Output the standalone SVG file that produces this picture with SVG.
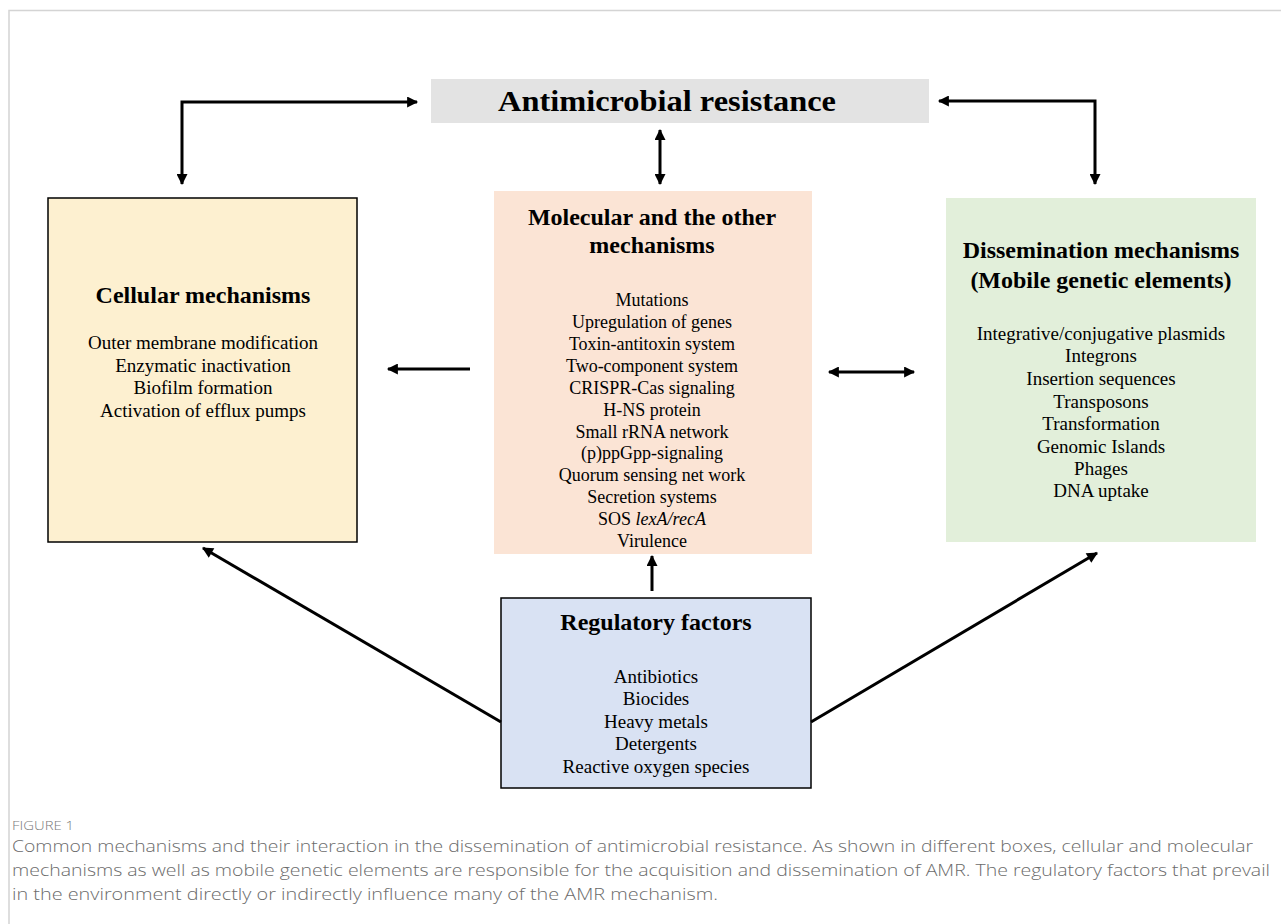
<svg xmlns="http://www.w3.org/2000/svg" width="1281" height="924" viewBox="0 0 1281 924">
<defs>
<marker id="ah" viewBox="0 0 10 10" refX="9" refY="5" markerWidth="12" markerHeight="11" markerUnits="userSpaceOnUse" orient="auto-start-reverse">
<path d="M0,0 L10,5 L0,10 z" fill="#000"/>
</marker>
<style>
.t{font-family:"Liberation Serif","Times New Roman",serif;fill:#000;text-anchor:middle}
.h{font-weight:bold;font-size:24px}
.i{font-size:19px}
.m{font-size:18px}
.c{stroke:#000;stroke-width:3;fill:none}
.cap{font-family:"Open Sans","Liberation Sans",sans-serif;fill:#6b6b6b;font-size:17px;font-weight:300}
</style>
</defs>
<rect width="1281" height="924" fill="#fff"/>
<path d="M9,924 L9,10.5 L1281,10.5" stroke="#d4d4d4" stroke-width="1.5" fill="none"/>

<g id="amr">
<rect x="431" y="79" width="498" height="44" fill="#e3e3e3"/>
<text class="t" x="667" y="111" font-weight="bold" font-size="29" textLength="338" lengthAdjust="spacingAndGlyphs">Antimicrobial resistance</text>
</g>

<g id="cellular">
<rect x="48" y="198" width="309" height="344" fill="#fdf0d0" stroke="#000" stroke-width="1.5"/>
<text class="t h" x="203" y="303">Cellular mechanisms</text>
<text class="t i" x="203" y="349">Outer membrane modification</text>
<text class="t i" x="203" y="372">Enzymatic inactivation</text>
<text class="t i" x="203" y="394">Biofilm formation</text>
<text class="t i" x="203" y="417">Activation of efflux pumps</text>
</g>

<g id="molecular">
<rect x="494" y="191" width="318" height="363" fill="#fbe4d5"/>
<text class="t h" x="652" y="225">Molecular and the other</text>
<text class="t h" x="652" y="253">mechanisms</text>
<text class="t m" x="652" y="306">Mutations</text>
<text class="t m" x="652" y="328">Upregulation of genes</text>
<text class="t m" x="652" y="350">Toxin-antitoxin system</text>
<text class="t m" x="652" y="372">Two-component system</text>
<text class="t m" x="652" y="394">CRISPR-Cas signaling</text>
<text class="t m" x="652" y="416">H-NS protein</text>
<text class="t m" x="652" y="438">Small rRNA network</text>
<text class="t m" x="652" y="459">(p)ppGpp-signaling</text>
<text class="t m" x="652" y="481">Quorum sensing net work</text>
<text class="t m" x="652" y="503">Secretion systems</text>
<text class="t m" x="652" y="525">SOS <tspan font-style="italic">lexA/recA</tspan></text>
<text class="t m" x="652" y="547">Virulence</text>
</g>

<g id="dissemination">
<rect x="946" y="198" width="310" height="344" fill="#e2efda"/>
<text class="t h" x="1101" y="258">Dissemination mechanisms</text>
<text class="t h" x="1101" y="288">(Mobile genetic elements)</text>
<text class="t i" x="1101" y="340">Integrative/conjugative plasmids</text>
<text class="t i" x="1101" y="362">Integrons</text>
<text class="t i" x="1101" y="385">Insertion sequences</text>
<text class="t i" x="1101" y="408">Transposons</text>
<text class="t i" x="1101" y="430">Transformation</text>
<text class="t i" x="1101" y="453">Genomic Islands</text>
<text class="t i" x="1101" y="475">Phages</text>
<text class="t i" x="1101" y="497">DNA uptake</text>
</g>

<g id="regulatory">
<rect x="501" y="598" width="310" height="190" fill="#d9e2f3" stroke="#000" stroke-width="1.5"/>
<text class="t h" x="656" y="630">Regulatory factors</text>
<text class="t i" x="656" y="683">Antibiotics</text>
<text class="t i" x="656" y="705">Biocides</text>
<text class="t i" x="656" y="728">Heavy metals</text>
<text class="t i" x="656" y="750">Detergents</text>
<text class="t i" x="656" y="773">Reactive oxygen species</text>
</g>

<g id="connectors">
<path class="c" d="M417,102 L182,102 L182,184" marker-start="url(#ah)" marker-end="url(#ah)"/>
<path class="c" d="M939,101 L1095,101 L1095,184" marker-start="url(#ah)" marker-end="url(#ah)"/>
<path class="c" d="M660,130 L660,184" marker-start="url(#ah)" marker-end="url(#ah)"/>
<path class="c" d="M470,369 L388,369" marker-end="url(#ah)"/>
<path class="c" d="M829,372 L914,372" marker-start="url(#ah)" marker-end="url(#ah)"/>
<path class="c" d="M652,591 L652,556" marker-end="url(#ah)"/>
<path class="c" d="M501,722 L203,548" marker-end="url(#ah)"/>
<path class="c" d="M811,722 L1097,553" marker-end="url(#ah)"/>
</g>

<g id="caption">
<text x="12" y="830" font-family="'Open Sans','Liberation Sans',sans-serif" font-size="12" font-weight="300" fill="#7a7a7a" textLength="62" lengthAdjust="spacingAndGlyphs">FIGURE 1</text>
<text class="cap" x="12" y="852" textLength="1241" lengthAdjust="spacingAndGlyphs">Common mechanisms and their interaction in the dissemination of antimicrobial resistance. As shown in different boxes, cellular and molecular</text>
<text class="cap" x="12" y="876" textLength="1258" lengthAdjust="spacingAndGlyphs">mechanisms as well as mobile genetic elements are responsible for the acquisition and dissemination of AMR. The regulatory factors that prevail</text>
<text class="cap" x="12" y="900" textLength="706" lengthAdjust="spacingAndGlyphs">in the environment directly or indirectly influence many of the AMR mechanism.</text>
</g>
</svg>
